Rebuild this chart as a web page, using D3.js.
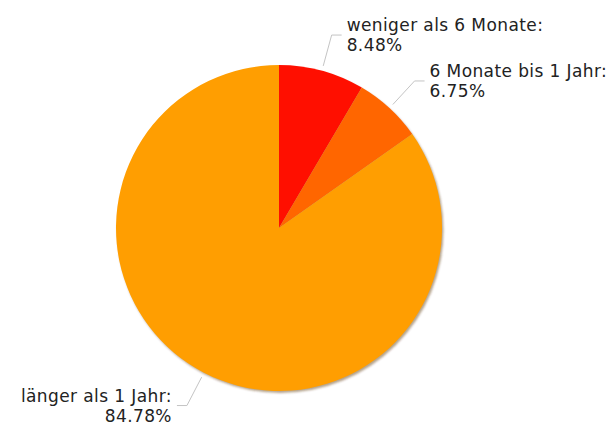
<!DOCTYPE html>
<html>
<head>
<meta charset="utf-8">
<script src="https://cdn.jsdelivr.net/npm/d3@7"></script>
<style>
  html, body { margin: 0; padding: 0; background: #fff; }
  svg { display: block; }
</style>
</head>
<body>
<svg id="chart" width="608" height="427"></svg>
<script>
// Anteile nach Dauer
const categories = ["weniger als 6 Monate", "6 Monate bis 1 Jahr", "länger als 1 Jahr"];
const values = [8.48, 6.75, 84.78];
const colors = ["#FF0F00", "#FF6600", "#FF9E01"];

const width = 608, height = 427;
const cx = 279, cy = 228, radius = 163;

const svg = d3.select("#chart");
const g = svg.append("g").attr("transform", `translate(${cx},${cy})`);

const data = categories.map((c, i) => ({ name: c, value: values[i], color: colors[i] }));
const pie = d3.pie().value(d => d.value).sort(null);
const arcs = pie(data);

const arc = d3.arc().innerRadius(0).outerRadius(radius);
const startArc = d3.arc().innerRadius(radius + 5).outerRadius(radius + 5);
const breakArc = d3.arc().innerRadius(200).outerRadius(200);

// soft drop shadow beneath the pie
const defs = svg.append("defs");
defs.append("filter").attr("id", "soft")
  .attr("x", "-10%").attr("y", "-10%").attr("width", "120%").attr("height", "120%")
  .append("feGaussianBlur").attr("stdDeviation", 1.2);

g.append("circle")
  .attr("cx", 1.5).attr("cy", 2)
  .attr("r", radius)
  .attr("fill", "rgba(90,50,0,0.45)")
  .attr("filter", "url(#soft)");

g.selectAll("path.slice")
  .data(arcs)
  .enter().append("path")
  .attr("class", "slice")
  .attr("d", arc)
  .attr("fill", d => d.data.color);

// leader lines and labels
const fmt = d3.format(".2f");
const midAngle = d => (d.startAngle + d.endAngle) / 2;

const labels = g.selectAll("g.label").data(arcs).enter().append("g").attr("class", "label");

labels.append("polyline")
  .attr("points", d => {
    const s = startArc.centroid(d);
    const b = breakArc.centroid(d);
    const dir = midAngle(d) < Math.PI ? 1 : -1;
    return [s, b, [b[0] + dir * 10, b[1]]].map(p => p.join(",")).join(" ");
  })
  .attr("fill", "none")
  .attr("stroke", "#c4c4c4")
  .attr("stroke-width", 1);

const txt = labels.append("text")
  .attr("font-family", "'DejaVu Sans', Verdana, sans-serif")
  .attr("font-size", 17)
  .attr("letter-spacing", 0.4)
  .attr("fill", "#222")
  .attr("text-anchor", d => midAngle(d) < Math.PI ? "start" : "end");

txt.append("tspan")
  .attr("x", d => { const b = breakArc.centroid(d); const dir = midAngle(d) < Math.PI ? 1 : -1; return b[0] + dir * 15; })
  .attr("y", d => breakArc.centroid(d)[1] - 4)
  .text(d => d.data.name + ":");

txt.append("tspan")
  .attr("x", d => { const b = breakArc.centroid(d); const dir = midAngle(d) < Math.PI ? 1 : -1; return b[0] + dir * 15; })
  .attr("y", d => breakArc.centroid(d)[1] + 16)
  .text(d => fmt(d.data.value) + "%");
</script>
</body>
</html>
